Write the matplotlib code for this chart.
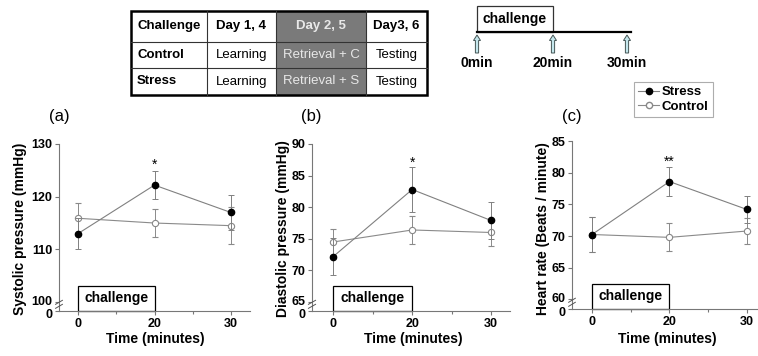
import numpy as np
import matplotlib
matplotlib.use("Agg")
import matplotlib.pyplot as plt
from matplotlib.patches import Rectangle, FancyArrow
from matplotlib.lines import Line2D
import matplotlib.transforms as mtransforms

plt.rcParams['font.family'] = ['Liberation Sans', 'DejaVu Sans']

# ---------------- data ----------------
time_labels = ['0', '20', '30']

systolic_stress = [113.0, 122.2, 117.0]
systolic_stress_err = [3.0, 2.6, 3.3]
systolic_control = [115.9, 115.0, 114.5]
systolic_control_err = [2.9, 2.7, 3.5]
systolic_sig = ['', '*', '']

diastolic_stress = [72.2, 82.8, 77.9]
diastolic_stress_err = [2.9, 3.5, 3.0]
diastolic_control = [74.5, 76.4, 76.0]
diastolic_control_err = [2.0, 2.2, 2.1]
diastolic_sig = ['', '*', '']

hr_stress = [70.25, 78.6, 74.2]
hr_stress_err = [2.8, 2.3, 2.2]
hr_control = [70.25, 69.8, 70.8]
hr_control_err = [2.7, 2.2, 2.1]
hr_sig = ['', '**', '']

table_header = ['Challenge', 'Day 1, 4', 'Day 2, 5', 'Day3, 6']
table_rows = [['Control', 'Learning', 'Retrieval + C', 'Testing'],
              ['Stress', 'Learning', 'Retrieval + S', 'Testing']]
timeline_labels = ['0min', '20min', '30min']

# ---------------- figure ----------------
W, H = 758, 356
fig = plt.figure(figsize=(W / 100, H / 100), dpi=100)
fig.patch.set_facecolor('white')

# overlay axes in pixel coordinates
ov = fig.add_axes([0, 0, 1, 1], zorder=0)
ov.set_xlim(0, W)
ov.set_ylim(H, 0)
ov.axis('off')
ov.patch.set_alpha(0)


def ax_rect(l, r, t, b):
    return [l / W, 1 - b / H, (r - l) / W, (b - t) / H]


panels = [
    dict(rect=ax_rect(59, 250, 144, 311), xlim=(-0.25, 2.25), ylim=(98.3, 130),
         yt=[100, 110, 120, 130], s=systolic_stress, se=systolic_stress_err,
         c=systolic_control, ce=systolic_control_err, sig=systolic_sig, sigy=126.0,
         ylabel='Systolic pressure (mmHg)', ylab_x=20, xlab_x=155, label='(a)', lab_x=59),
    dict(rect=ax_rect(312, 510, 144, 311), xlim=(-0.27, 2.24), ylim=(63.58, 90),
         yt=[65, 70, 75, 80, 85, 90], s=diastolic_stress, se=diastolic_stress_err,
         c=diastolic_control, ce=diastolic_control_err, sig=diastolic_sig, sigy=87.0,
         ylabel='Diastolic pressure (mmHg)', ylab_x=283, xlab_x=413, label='(b)', lab_x=311),
    dict(rect=ax_rect(572, 757, 141, 309), xlim=(-0.258, 2.13), ylim=(58.5, 85),
         yt=[60, 65, 70, 75, 80, 85], s=hr_stress, se=hr_stress_err,
         c=hr_control, ce=hr_control_err, sig=hr_sig, sigy=81.7,
         ylabel='Heart rate (Beats / minute)', ylab_x=543, xlab_x=667, label='(c)', lab_x=572),
]

x = np.arange(len(time_labels))
spine_col = '#777777'
ms = 4.5

for p in panels:
    ax = fig.add_axes(p['rect'], zorder=2)
    ax.patch.set_alpha(0)
    ax.set_xlim(*p['xlim'])
    ax.set_ylim(*p['ylim'])
    for sp in ['top', 'right']:
        ax.spines[sp].set_visible(False)
    for sp in ['left', 'bottom']:
        ax.spines[sp].set_color(spine_col)
        ax.spines[sp].set_linewidth(0.8)
    yt = p['yt'] + [p['ylim'][0]]
    ax.set_yticks(yt)
    ax.set_yticklabels([str(v) for v in p['yt']] + ['0'])
    ax.set_xticks(x)
    ax.set_xticklabels(time_labels)
    ax.set_xticks([0.5, 1.5], minor=True)
    ax.tick_params(axis='both', which='major', length=3, width=0.8, color=spine_col,
                   pad=2, labelsize=9)
    ax.tick_params(axis='x', which='minor', length=2, width=0.8, color=spine_col)
    ylabs = ax.get_yticklabels()
    for lab in ax.get_xticklabels() + ylabs:
        lab.set_fontweight('bold')
    # nudge the "100"/"0" pair apart slightly, as in the broken axis
    ylabs[0].set_transform(ylabs[0].get_transform() +
                           mtransforms.ScaledTranslation(0, 2 / 100, fig.dpi_scale_trans))
    ylabs[-1].set_transform(ylabs[-1].get_transform() +
                            mtransforms.ScaledTranslation(0, -2.5 / 100, fig.dpi_scale_trans))

    # control
    ax.errorbar(x, p['c'], yerr=p['ce'], color='#8a8a8a', lw=0.8, elinewidth=0.7,
                capsize=2, capthick=0.7, marker='o', ms=ms, mfc='white', mec='#888888',
                mew=0.8, zorder=3)
    # stress
    ax.errorbar(x, p['s'], yerr=p['se'], color='#808080', lw=0.8, elinewidth=0.7,
                capsize=2, capthick=0.7, marker='o', ms=ms, mfc='black', mec='black',
                zorder=4, ecolor='#808080')
    for xi, sg in zip(x, p['sig']):
        if sg:
            ax.text(xi, p['sigy'], sg, ha='center', va='center', fontsize=10)

    # challenge box
    ax.add_patch(Rectangle((0, 0), 1, 0.15, transform=ax.get_xaxis_transform(),
                           fill=False, edgecolor='black', lw=0.9, clip_on=False, zorder=1))
    ax.text(0.5, 0.075, 'challenge', transform=ax.get_xaxis_transform(), ha='center',
            va='center', fontsize=10, fontweight='bold')

    # axis break marks
    yb = 0.04
    for dy in (-0.012, 0.012):
        ax.plot([-0.018, 0.018], [yb + dy - 0.012, yb + dy + 0.012],
                transform=ax.transAxes, color='#555555', lw=0.7, clip_on=False, zorder=5)

    # labels in pixel space
    ov.text(p['ylab_x'], 229, p['ylabel'], rotation=90,
            ha='center', va='center', fontsize=10, fontweight='bold')
    ov.text(p['xlab_x'], 339, 'Time (minutes)', ha='center', va='center',
            fontsize=10, fontweight='bold')
    ov.text(p['lab_x'], 116, p['label'], ha='center', va='center', fontsize=12)

# ---------------- table ----------------
col_edges = [131, 207, 276, 366, 427]
row_edges = [11, 42, 68, 95]
ov.add_patch(Rectangle((col_edges[2], row_edges[0]), col_edges[3] - col_edges[2],
                       row_edges[-1] - row_edges[0], facecolor='#7a7a7a', edgecolor='none'))
for xe in col_edges[1:-1]:
    ov.plot([xe, xe], [row_edges[0], row_edges[-1]], color='#333333', lw=0.8)
for ye in row_edges[1:-1]:
    ov.plot([col_edges[0], col_edges[-1]], [ye, ye], color='#333333', lw=0.8)
ov.add_patch(Rectangle((col_edges[0], row_edges[0]), col_edges[-1] - col_edges[0],
                       row_edges[-1] - row_edges[0], fill=False, edgecolor='black', lw=1.8))
all_rows = [table_header] + table_rows
for ri, row in enumerate(all_rows):
    yc = (row_edges[ri] + row_edges[ri + 1]) / 2
    for ci, txt in enumerate(row):
        grey = (ci == 2)
        bold = (ri == 0) or (ci == 0)
        if ci == 0:
            xt, ha = col_edges[0] + 6, 'left'
        else:
            xt, ha = (col_edges[ci] + col_edges[ci + 1]) / 2, 'center'
        ov.text(xt, yc, txt, ha=ha, va='center', fontsize=9.5,
                fontweight='bold' if bold else 'normal',
                color='#e8e8e8' if grey else 'black')

# ---------------- timeline ----------------
tl_x = [477, 553, 627]
ov.add_patch(Rectangle((tl_x[0], 6), tl_x[1] - tl_x[0], 26, fill=False,
                       edgecolor='#333333', lw=0.9))
ov.text((tl_x[0] + tl_x[1]) / 2, 19, 'challenge', ha='center', va='center',
        fontsize=10, fontweight='bold')
ov.plot([tl_x[0], 631], [32, 32], color='black', lw=1.6)
for xa, lab in zip(tl_x, timeline_labels):
    ov.add_patch(FancyArrow(xa, 53, 0, -18, width=3.2, head_width=7, head_length=5.5,
                            length_includes_head=True, facecolor='#c4e6ec',
                            edgecolor='#445555', lw=0.7))
    ov.text(xa, 63, lab, ha='center', va='center', fontsize=10, fontweight='bold')

# ---------------- legend ----------------
handles = [Line2D([], [], color='#808080', lw=0.8, marker='o', ms=ms, mfc='black', mec='black'),
           Line2D([], [], color='#8a8a8a', lw=0.8, marker='o', ms=ms, mfc='white', mec='#888888')]
leg = fig.legend(handles, ['Stress', 'Control'], loc='upper left',
                 bbox_to_anchor=(634 / W, 1 - 82 / H), frameon=True, fancybox=False,
                 prop={'weight': 'bold', 'size': 9.5}, handlelength=1.6, handletextpad=0.2,
                 borderpad=0.3, labelspacing=0.2, borderaxespad=0)
leg.get_frame().set_edgecolor('#999999')
leg.get_frame().set_linewidth(0.8)

fig.savefig('out.png', dpi=100)
